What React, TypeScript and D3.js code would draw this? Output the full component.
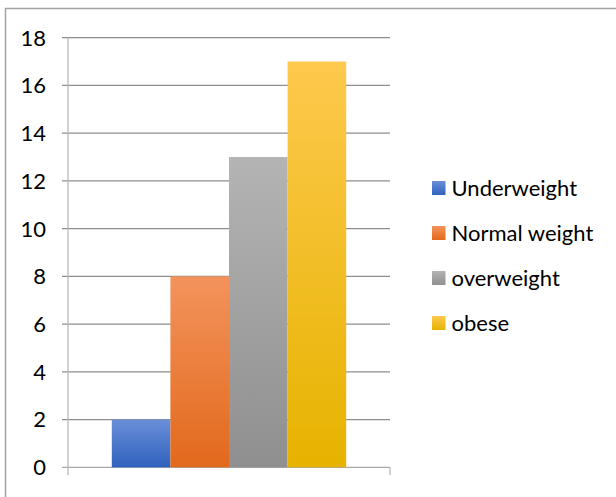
import React from "react";
import * as d3 from "d3";

const categories = ["Underweight", "Normal weight", "overweight", "obese"];
const values = [2, 8, 13, 17];
const yTicks = [0, 2, 4, 6, 8, 10, 12, 14, 16, 18];
// [top, bottom] gradient stops per series
const gradients: [string, string][] = [
  ["#6a8fd8", "#2f62be"],
  ["#f3935c", "#e2691c"],
  ["#b4b4b4", "#8f8f8f"],
  ["#fec94d", "#e6b300"],
];

const W = 616;
const H = 497;
const plot = { left: 68, right: 390, top: 37.7, bottom: 467.3 };

export default function App() {
  const y = d3.scaleLinear().domain([0, 18]).range([plot.bottom, plot.top]);
  const x = d3
    .scaleBand<string>()
    .domain(categories)
    .range([plot.left + 43.8, plot.right - 43.8])
    .padding(0);
  const font = "Lato, 'Open Sans', sans-serif";

  return (
    <svg
      width={W}
      height={H}
      style={{ position: "absolute", left: 0, top: 0, background: "#fff" }}
    >
      <defs>
        {gradients.map((g, i) => (
          <linearGradient key={i} id={`g${i}`} x1="0" y1="0" x2="0" y2="1">
            <stop offset="0" stopColor={g[0]} />
            <stop offset="1" stopColor={g[1]} />
          </linearGradient>
        ))}
      </defs>
      {/* chart frame */}
      <rect x={5.5} y={8.5} width={W + 20} height={H + 20} fill="#fff" stroke="#a3a3a3" strokeWidth={1.5} />

      {/* gridlines */}
      {yTicks.map((t) => (
        <line
          key={t}
          x1={plot.left - 6}
          x2={plot.right}
          y1={y(t)}
          y2={y(t)}
          stroke={t === 0 ? "#a8a8a8" : "#8e8e8e"}
          strokeWidth={1.3}
        />
      ))}
      {/* y axis line */}
      <line x1={plot.left} x2={plot.left} y1={plot.top} y2={plot.bottom + 8} stroke="#b8b8b8" strokeWidth={1.3} />
      {/* x axis end tick */}
      <line x1={plot.right} x2={plot.right} y1={plot.bottom} y2={plot.bottom + 8} stroke="#b8b8b8" strokeWidth={1.3} />

      {/* bars */}
      {categories.map((c, i) => (
        <rect
          key={c}
          x={x(c)}
          y={y(values[i])}
          width={x.bandwidth()}
          height={plot.bottom - y(values[i])}
          fill={`url(#g${i})`}
        />
      ))}

      {/* y tick labels */}
      {yTicks.map((t) => (
        <text
          key={t}
          x={46}
          y={y(t)}
          dy="0.36em"
          textAnchor="end"
          fontFamily={font}
          fontSize={22}
          fill="#000"
        >
          {t}
        </text>
      ))}

      {/* legend */}
      {categories.map((c, i) => {
        const cy = 188 + i * 45;
        return (
          <g key={c}>
            <rect x={432} y={cy - 7} width={13.5} height={14} fill={`url(#g${i})`} />
            <text x={451.5} y={cy} dy="0.36em" fontFamily={font} fontSize={22} fill="#000">
              {c}
            </text>
          </g>
        );
      })}
    </svg>
  );
}
